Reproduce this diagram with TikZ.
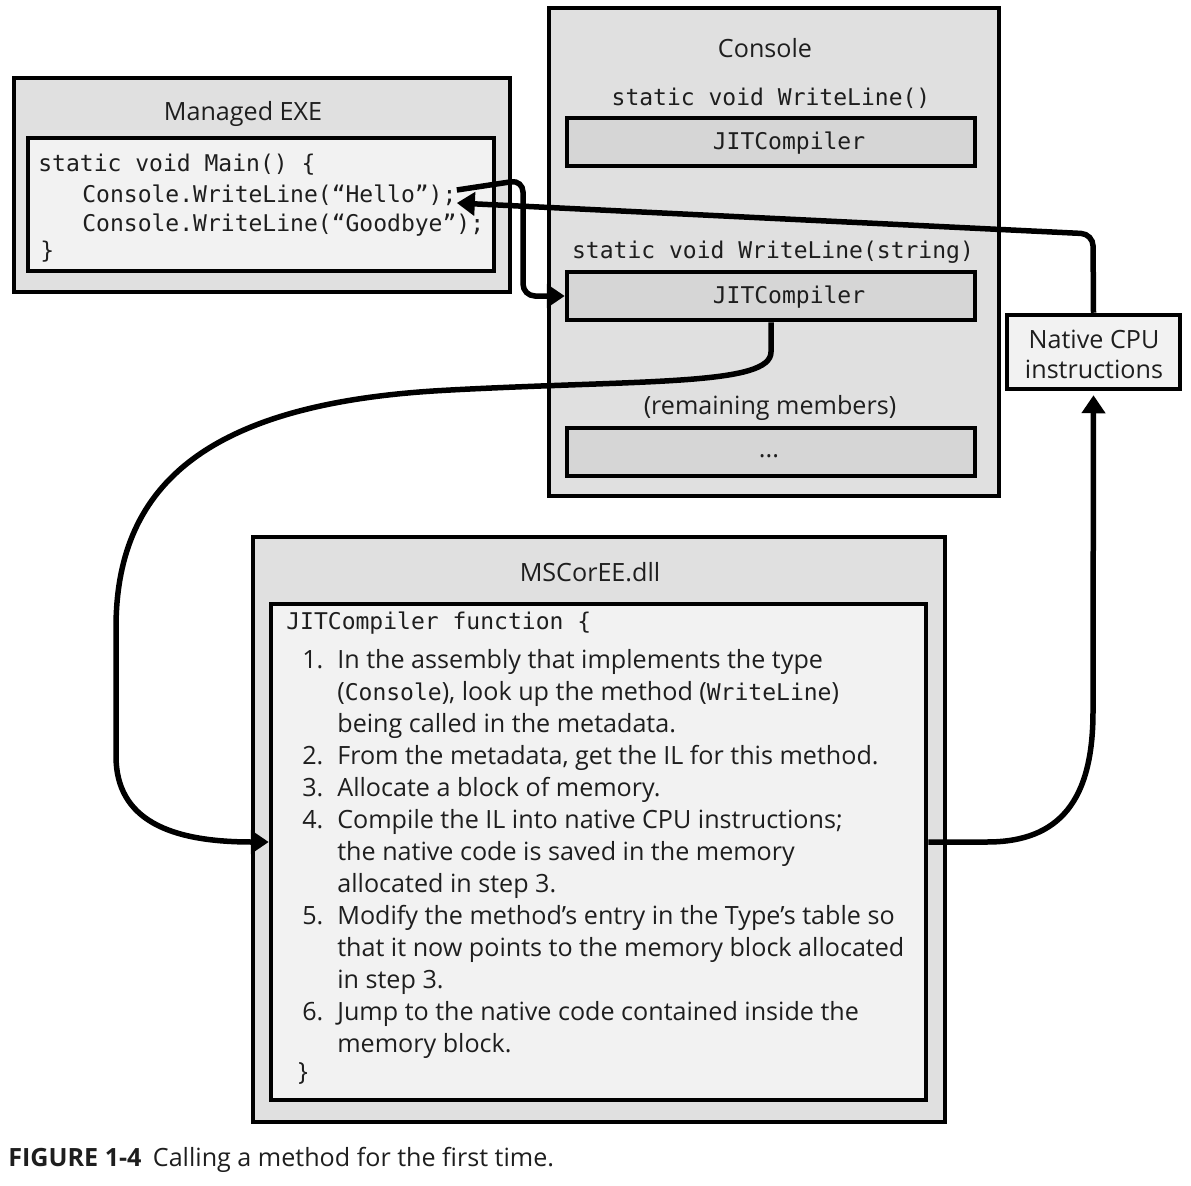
\documentclass[tikz,border=0pt]{standalone}
\usepackage{fontspec}
\setmainfont{Open Sans}
\setmonofont{DejaVu Sans Mono}
\usetikzlibrary{positioning,fit,calc,arrows.meta}
\definecolor{outerfill}{RGB}{224,224,224}
\definecolor{codefill}{RGB}{242,242,242}
\definecolor{jitfill}{RGB}{214,214,214}
\definecolor{txt}{RGB}{30,30,30}
\newcommand{\code}[1]{{\ttfamily\fontsize{13.1}{18}\selectfont #1}}

\begin{document}
\begin{tikzpicture}[
    x=0.02cm, y=-0.02cm,
    outer/.style={draw, line width=0.09cm, fill=outerfill, inner sep=0pt},
    codebox/.style={draw, line width=0.09cm, fill=codefill, inner sep=0pt},
    jitbox/.style={draw, line width=0.09cm, fill=jitfill, inner sep=0pt},
    label/.style={inner sep=0pt, text=txt, font=\fontsize{14.3}{18}\selectfont},
    mono/.style={inner sep=0pt, text=txt, font=\ttfamily\fontsize{13.1}{18}\selectfont},
    call/.style={line width=0.11cm, rounded corners=0.24cm, -{Triangle[length=0.36cm, width=0.46cm]}}
]
    \useasboundingbox (0,0) rectangle (1191,1186);

    % Managed EXE
    \node[outer, fit={(14,78) (510,292)}] (exe) {};
    \node[label] (exetitle) at (243,114) {Managed EXE};
    \node[codebox, fit={(28,138) (494,271)}] (main) {};
    \node[mono, anchor=west] (line1) at (38,165) {static void Main() \{};
    \node[mono, anchor=west] (hello) at (82,195) {Console.WriteLine(“Hello”);};
    \node[mono, anchor=west] (bye) at (82,225) {Console.WriteLine(“Goodbye”);};
    \node[mono, anchor=west] (line4) at (40,252) {\}};

    % Console type
    \node[outer, fit={(549,8) (999,496)}] (console) {};
    \node[label] (contitle) at (765,48) {Console};
    \node[mono] (wl0) at (771,98) {static void WriteLine()};
    \node[jitbox, fit={(567,118) (975,166)}] (jit1) {};
    \node[mono] (jit1text) at (789,143) {JITCompiler};
    \node[mono] (wl1) at (773,252) {static void WriteLine(string)};
    \node[jitbox, fit={(567,272) (975,320)}] (jit2) {};
    \node[mono] (jit2text) at (789,297) {JITCompiler};
    \node[label] (rest) at (770,408) {(remaining members)};
    \node[jitbox, fit={(567,428) (975,476)}] (others) {};
    \node[label] (dots) at (769,456) {...};

    % Native code
    \node[codebox, fit={(1007,315) (1180,389)}] (native) {};
    \node[label, align=center, font=\fontsize{14.3}{17}\selectfont] (nativetext) at (1094,354) {Native CPU\\instructions};

    % MSCorEE
    \node[outer, fit={(253,537) (945,1122)}] (mscoree) {};
    \node[label] (mstitle) at (590,572) {MSCorEE.dll};
    \node[codebox, fit={(271,604) (926,1100)}] (jitfn) {};
    \node[mono, anchor=west] (fnhead) at (286,623) {JITCompiler function \{};
    \foreach \y/\n/\t [count=\i] in {
        660/1./{In the assembly that implements the type},
        692//{(\code{Console}), look up the method (\code{WriteLine})},
        724//{being called in the metadata.},
        756/2./{From the metadata, get the IL for this method.},
        788/3./{Allocate a block of memory.},
        820/4./{Compile the IL into native CPU instructions;},
        852//{the native code is saved in the memory},
        884//{allocated in step 3.},
        916/5./{Modify the method’s entry in the Type’s table so},
        948//{that it now points to the memory block allocated},
        980//{in step 3.},
        1012/6./{Jump to the native code contained inside the},
        1044//{memory block.}} {
        \node[label, anchor=base west] (num\i) at (302,{\y+8}) {\n};
        \node[label, anchor=base west] (step\i) at (337,{\y+8}) {\t};
    }
    \node[label, anchor=base west] (fnend) at (298,1080) {\}};

    % Calls
    \draw[call] ([yshift=0.1cm]hello.east) -- (523,180) |- (jit2.west);
    \draw[call] (native.north) -- (1093,234) -- ([yshift=-0.16cm]hello.east);
    \draw[call] (jit2.south) -- (771,340) .. controls (771,385) and (650,380) .. (450,390)
        .. controls (200,405) and (116,490) .. (116,640) -- (116,744)
        .. controls (116,820) and (170,842) .. ([yshift=0.2cm]jitfn.west);
    \draw[call, shorten >=0.08cm] ([yshift=0.2cm]jitfn.east) -- (975,842)
        .. controls (1060,842) and (1093,800) .. (1093,700) -- (native.south);

    % Caption
    \node[label, anchor=base west] (caption) at (8,1166) {\textbf{FIGURE 1-4}\hspace{0.45em}Calling a method for the first time.};
\end{tikzpicture}
\end{document}
